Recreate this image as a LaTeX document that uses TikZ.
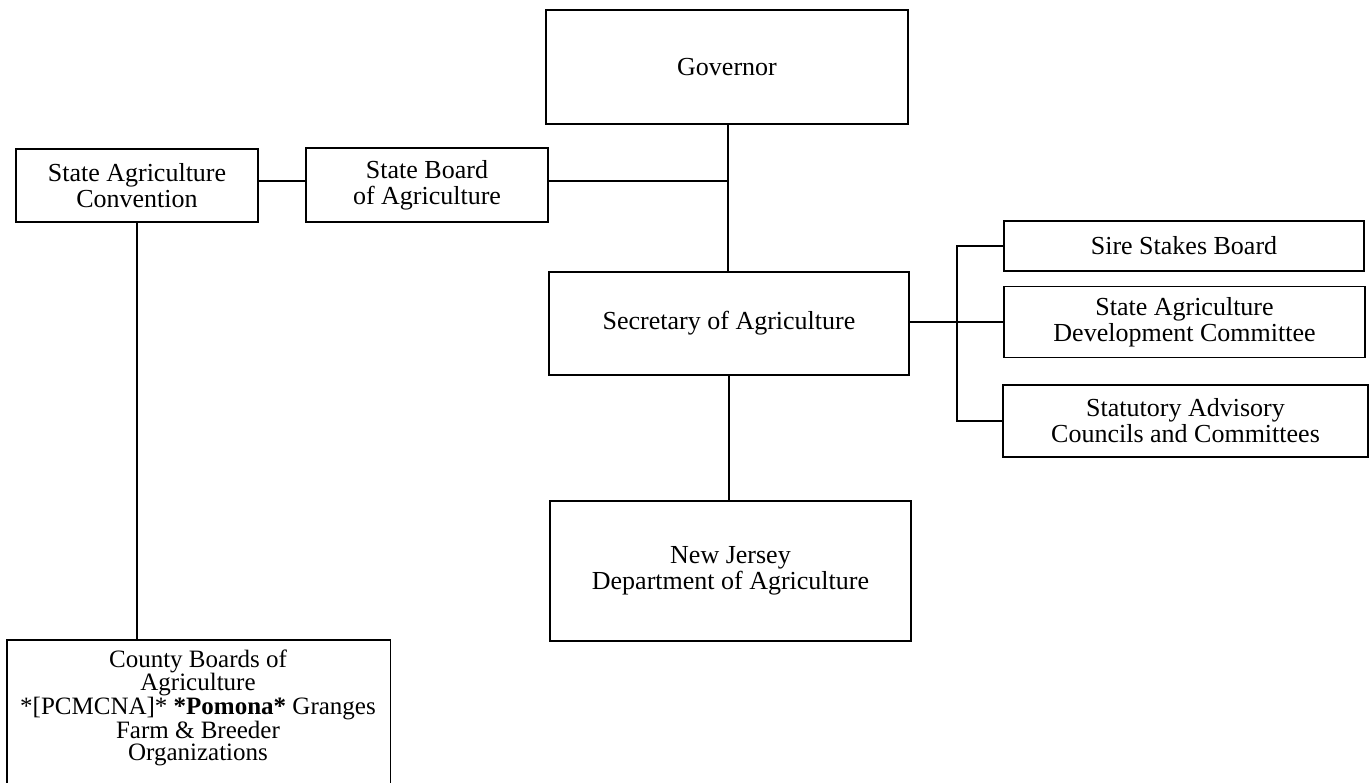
\documentclass[tikz,border=0pt]{standalone}
\usepackage{fontspec}
\setmainfont{Liberation Serif}
\begin{document}
\begin{tikzpicture}[x=1pt,y=-1pt,
  box/.style={draw, line width=1.8pt, align=center, inner sep=0pt,
    font=\fontsize{26}{26}\selectfont},
  conn/.style={line width=1.7pt},
  every node/.style={font=\fontsize{26}{26}\selectfont}]
\fill[white] (0,0) rectangle (1371,783);
\useasboundingbox (0,0) rectangle (1371,783);

\node[box, minimum width=362, minimum height=114] (gov) at (727,67) {Governor};
\node[box, minimum width=242, minimum height=73] (conv) at (137,185.5) {State Agriculture\\Convention};
\node[box, minimum width=242, minimum height=74] (board) at (427,185) {State Board\\of Agriculture};
\node[box, minimum width=360, minimum height=103] (sec) at (729,323.5) {Secretary of Agriculture};
\node[box, minimum width=361, minimum height=140] (nj) at (730.5,571) {New Jersey\\Department of Agriculture};
\node[box, minimum width=360, minimum height=50] (sire) at (1184,246) {Sire Stakes Board};
\node[box, minimum width=361, minimum height=71] (sadc) at (1184.5,322) {State Agriculture\\Development Committee};
\node[box, minimum width=365, minimum height=72] (stat) at (1185.5,421) {Statutory Advisory\\Councils and Committees};

% County box (cut off at the bottom of the picture)
\node[draw=none, minimum width=383, minimum height=160, anchor=north west, inner sep=0pt] (county) at (7,640) {};
\draw[line width=1.8pt] (county.south west) -- (county.north west) -- (county.north east) -- (county.south east);
\node[align=center, inner sep=0pt, font=\fontsize{25}{22.5}\selectfont] (countytext) at (198,708)
  {County Boards of\\Agriculture\\*[PCMCNA]* \textbf{*Pomona*} Granges\\Farm \& Breeder\\Organizations};

% connectors
\coordinate (j) at (728,181);
\coordinate (bx) at (957,0);
\coordinate (sy) at (0,322);
\draw[conn] (gov.south -| j) -- (sec.north -| j);
\draw[conn] (conv.east |- j) -- (board.west |- j);
\draw[conn] (board.east |- j) -- (j);
\draw[conn] (conv.south) -- (conv.south |- county.north);
\draw[conn] (sec.south) -- (sec.south |- nj.north);
\draw[conn] (sec.east |- sy) -- (sadc.west |- sy);
\draw[conn] (sire.west) -- (sire.west -| bx) -- (stat.west -| bx) -- (stat.west);
\end{tikzpicture}
\end{document}
